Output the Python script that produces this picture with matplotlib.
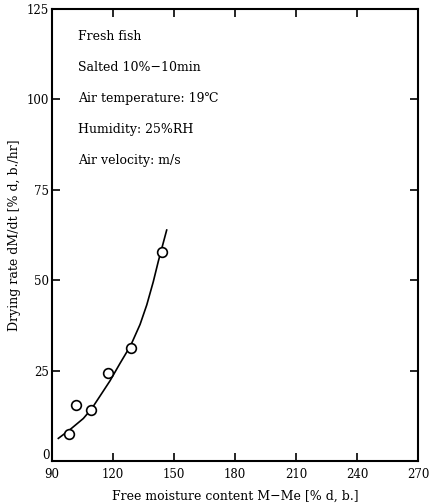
import matplotlib.pyplot as plt
from matplotlib.transforms import ScaledTranslation

# measured points
moisture = [98.5, 101.8, 109.2, 117.4, 128.8, 144.1]
rate = [7.5, 15.6, 14.1, 24.3, 31.3, 57.7]

# hand-drawn fitted curve
curve_x = [93.1, 99.0, 105.4, 109.5, 113.6, 118.5, 123.4, 128.7, 133.3, 136.6, 139.8, 142.3, 146.4]
curve_y = [6.3, 8.8, 11.8, 14.5, 18.0, 22.2, 27.0, 32.0, 37.8, 43.2, 49.6, 55.3, 63.9]

x_ticks = [90, 120, 150, 180, 210, 240, 270]
y_ticks = [0, 25, 50, 75, 100, 125]

notes = ["Fresh fish",
         "Salted 10%\u221210min",
         "Air temperature: 19\u2103",
         "Humidity: 25%RH",
         "Air velocity: m/s"]

serif = ['DejaVu Serif', 'DejaVu Sans']

fig = plt.figure(figsize=(4.3, 5.04), dpi=100)
ax = fig.add_axes([0.121, 0.085, 0.851, 0.897])

ax.plot(curve_x, curve_y, color='black', linewidth=1.2)
ax.plot(moisture, rate, linestyle='none', marker='o', markersize=7,
        markerfacecolor='white', markeredgecolor='black', markeredgewidth=1.2)

ax.set_xlim(90, 270)
ax.set_ylim(0, 125)
ax.set_xticks(x_ticks)
ax.set_yticks(y_ticks)
ax.tick_params(direction='in', length=6, width=1.2, top=True, right=True,
               labelsize=8.5)
ax.tick_params(axis='x', pad=5)
ax.tick_params(axis='y', pad=2)
for lab in ax.get_xticklabels() + ax.get_yticklabels():
    lab.set_family(serif)
for s in ax.spines.values():
    s.set_linewidth(1.5)

# the "0" sits a little above the corner, as in the original
zero = ax.get_yticklabels()[0]
zero.set_transform(zero.get_transform() + ScaledTranslation(0, 5 / 72, fig.dpi_scale_trans))

ax.set_xlabel("Free moisture content M\u2212Me [% d, b.]", family=serif, fontsize=9, labelpad=6)
ax.set_ylabel("Drying rate dM/dt [% d, b./hr]", family=serif, fontsize=9, labelpad=4)

for i, t in enumerate(notes):
    ax.text(0.072, 0.94 - i * 0.0685, t, transform=ax.transAxes, family=serif,
            fontsize=9, va='center', ha='left')

fig.savefig("out.png", dpi=100)
